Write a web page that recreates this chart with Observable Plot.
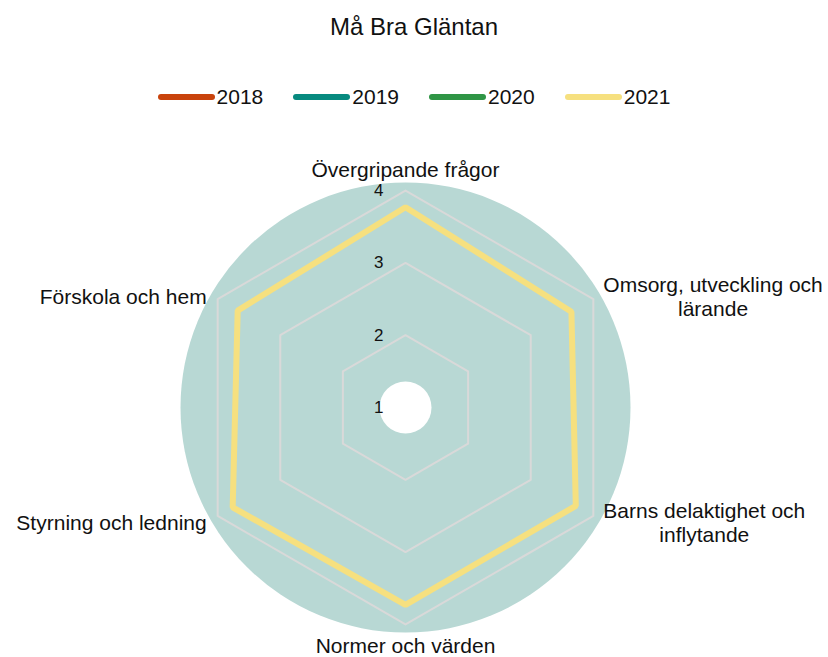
<!DOCTYPE html>
<html><head><meta charset="utf-8">
<script src="https://cdn.jsdelivr.net/npm/d3@7"></script>
<script src="https://cdn.jsdelivr.net/npm/@observablehq/plot@0.6"></script>
<style>
body{margin:0;background:#fff;font-family:"Liberation Sans",Arial,sans-serif;color:#111;}
#title{height:54px;line-height:54px;text-align:center;font-size:24px;}
#legend{margin-top:23px;height:40px;display:flex;justify-content:center;align-items:center;gap:30px;font-size:21px;}
.item{display:flex;align-items:center;gap:2px}
.item svg{display:block}
</style></head><body>
<div id="title"></div><div id="legend"></div><div id="chart"></div>
<script>
const title = "Må Bra Gläntan";
const categories = ["Övergripande frågor", "Omsorg, utveckling och\nlärande", "Barns delaktighet och\ninflytande", "Normer och värden", "Styrning och ledning", "Förskola och hem"];
const years = ["2018", "2019", "2020", "2021"];
const yearColors = ["#c9430c", "#078a7f", "#2f9545", "#f6e07f"];
const values2018 = [null, null, null, null, null, null];
const values2019 = [null, null, null, null, null, null];
const values2020 = [null, null, null, null, null, null];
const values2021 = [3.77, 3.65, 3.72, 3.73, 3.76, 3.68];
const tickValues = [1, 2, 3, 4];

// ---- title & legend (HTML, above the SVG)
document.getElementById("title").textContent = title;
const legend = document.getElementById("legend");
years.forEach((y, i) => {
  const it = document.createElement("div");
  it.className = "item";
  it.innerHTML = `<svg width="57" height="8"><line x1="3" x2="54" y1="4" y2="4" stroke="${yearColors[i]}" stroke-width="6" stroke-linecap="round"/></svg><span>${y}</span>`;
  legend.appendChild(it);
});

// ---- geometry
const W = 828, H = 540;
const cx = 405, cy = 290, k = 72.3; // pixels per value unit
const rMin = 1, rMax = 4;
const n = categories.length;
const ang = i => (2 * Math.PI * i) / n; // clockwise from top
const toXY = (v, i) => ({x: (v - rMin) * Math.sin(ang(i)), y: (v - rMin) * Math.cos(ang(i))});

const series = [values2018, values2019, values2020, values2021];
const lineData = [];
series.forEach((vals, s) => vals.forEach((v, i) => {
  if (v != null) lineData.push({year: years[s], ...toXY(v, i)});
}));

const grid = [];
tickValues.filter(t => t > rMin).forEach(t => categories.forEach((c, i) => grid.push({level: t, ...toXY(t, i)})));

const tickLabels = tickValues.map(t => ({t, ...toXY(t, 0)}));

// label placement
const ctx = document.createElement("canvas").getContext("2d");
ctx.font = "21px 'Liberation Sans'";
const textW = s => Math.max(...s.split("\n").map(l => ctx.measureText(l).width));
const labMid = [], labEnd = [];
categories.forEach((c, i) => {
  const p = toXY(rMax, i);
  const sx = Math.sin(ang(i));
  if (Math.abs(sx) < 0.1) {
    const f = (rMax - rMin + 21 / k) / (rMax - rMin);
    labMid.push({text: c, x: p.x * f, y: p.y * f});
  } else {
    const dy = p.y < 0 ? -6 / k : 3 / k;
    if (sx > 0) labMid.push({text: c, x: p.x + (10 + textW(c) / 2) / k, y: p.y + dy});
    else labEnd.push({text: c, x: p.x - 11 / k, y: p.y + dy});
  }
});

const colorOf = Object.fromEntries(years.map((y, i) => [y, yearColors[i]]));

const chart = Plot.plot({
  width: W, height: H,
  margin: 0,
  x: {domain: [0, 1], range: [cx, cx + k], axis: null},
  y: {domain: [0, 1], range: [cy, cy - k], axis: null},
  style: {fontFamily: "'Liberation Sans', Arial, sans-serif", background: "#fff", overflow: "visible"},
  marks: [
    Plot.dot([{x: 0, y: 0}], {x: "x", y: "y", r: 225, fill: "#b8d8d4", stroke: "none"}),
    Plot.dot([{x: 0, y: 0}], {x: "x", y: "y", r: 26, fill: "#ffffff", stroke: "none"}),
    Plot.line(grid, {x: "x", y: "y", z: "level", curve: "linear-closed", stroke: "#d9d9d9", strokeWidth: 2}),
    Plot.text(tickLabels, {x: "x", y: "y", text: d => String(d.t), textAnchor: "end", dx: -22, fontSize: 17, fill: "#111"}),
    ...years.map(y => Plot.line(lineData.filter(d => d.year === y), {x: "x", y: "y", curve: "linear-closed", stroke: colorOf[y], strokeWidth: 6, strokeLinejoin: "miter"})),
    Plot.text(labMid, {x: "x", y: "y", text: "text", textAnchor: "middle", lineAnchor: "middle", lineHeight: 1.15, fontSize: 21, fill: "#111"}),
    Plot.text(labEnd, {x: "x", y: "y", text: "text", textAnchor: "end", lineAnchor: "middle", lineHeight: 1.15, fontSize: 21, fill: "#111"})
  ]
});
document.getElementById("chart").appendChild(chart);
</script>
</body></html>
